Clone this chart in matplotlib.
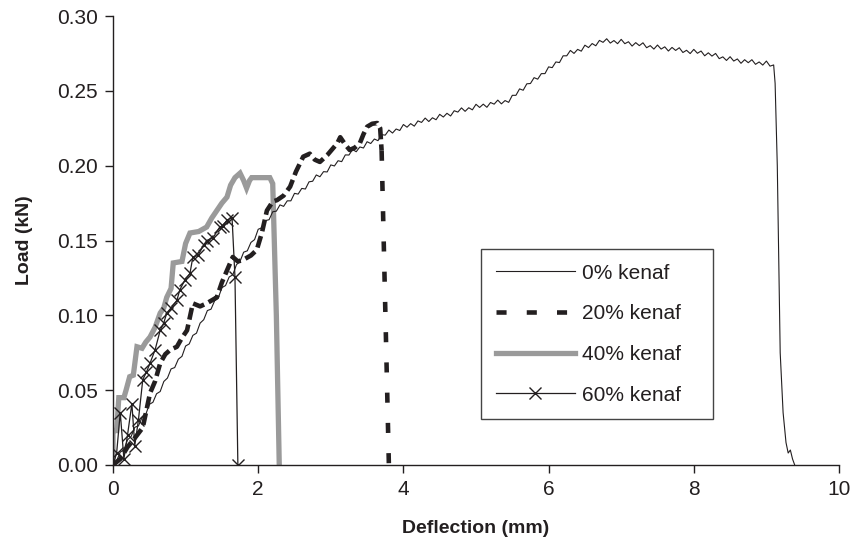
import matplotlib
matplotlib.use("Agg")
import matplotlib.pyplot as plt
import numpy as np

plt.rcParams["font.family"] = ["Liberation Sans", "DejaVu Sans"]

# 0% kenaf (thin solid): read every 0.05 mm up to 9.1, then the failure drop
x0 = [round(0.05 * i, 2) for i in range(183)] + [9.12, 9.15, 9.19, 9.23, 9.27, 9.30, 9.33, 9.36, 9.39]
y0 = [0.0, 0.0029, 0.0086, 0.0101, 0.0168, 0.0191, 0.0252, 0.0261, 0.0317, 0.0336,
      0.0405, 0.0419, 0.0476, 0.0491, 0.0558, 0.0581, 0.0642, 0.0651, 0.0707, 0.0726,
      0.0795, 0.0809, 0.0866, 0.0881, 0.0948, 0.0971, 0.1032, 0.1041, 0.1097, 0.1116,
      0.1185, 0.1199, 0.1256, 0.1271, 0.1338, 0.1361, 0.1422, 0.1431, 0.1487, 0.1506,
      0.1575, 0.1585, 0.1633, 0.1639, 0.1692, 0.1696, 0.1738, 0.1728, 0.1765, 0.1765,
      0.1815, 0.1810, 0.1848, 0.1844, 0.1892, 0.1896, 0.1938, 0.1926, 0.1960, 0.1958,
      0.2005, 0.1998, 0.2033, 0.2027, 0.2072, 0.2071, 0.2108, 0.2093, 0.2125, 0.2118,
      0.2160, 0.2148, 0.2178, 0.2167, 0.2207, 0.2204, 0.2238, 0.2218, 0.2245, 0.2235,
      0.2275, 0.2257, 0.2281, 0.2264, 0.2299, 0.2289, 0.2318, 0.2295, 0.2320, 0.2307,
      0.2343, 0.2325, 0.2350, 0.2332, 0.2367, 0.2358, 0.2386, 0.2363, 0.2387, 0.2373,
      0.2410, 0.2389, 0.2411, 0.2390, 0.2422, 0.2411, 0.2438, 0.2413, 0.2435, 0.2423,
      0.2470, 0.2470, 0.2513, 0.2504, 0.2547, 0.2549, 0.2588, 0.2578, 0.2615, 0.2615,
      0.2660, 0.2655, 0.2693, 0.2689, 0.2734, 0.2734, 0.2770, 0.2750, 0.2777, 0.2765,
      0.2805, 0.2789, 0.2816, 0.2801, 0.2837, 0.2824, 0.2848, 0.2819, 0.2836, 0.2815,
      0.2844, 0.2815, 0.2828, 0.2799, 0.2822, 0.2802, 0.2821, 0.2788, 0.2802, 0.2779,
      0.2806, 0.2779, 0.2794, 0.2766, 0.2790, 0.2770, 0.2788, 0.2756, 0.2771, 0.2749,
      0.2777, 0.2751, 0.2766, 0.2734, 0.2754, 0.2732, 0.2750, 0.2715, 0.2727, 0.2703,
      0.2728, 0.2699, 0.2713, 0.2684, 0.2708, 0.2688, 0.2708, 0.2677, 0.2693, 0.2672,
      0.2699, 0.2665, 0.2673,
      0.255, 0.200, 0.075, 0.035, 0.015, 0.008, 0.010, 0.004, 0.000]

# 20% kenaf (thick dashed)
x20 = [0, 0.1, 0.2, 0.3, 0.41, 0.51, 0.58, 0.65, 0.72, 0.79, 0.88, 0.95, 1.02, 1.10,
       1.2, 1.29, 1.43, 1.5, 1.57, 1.65, 1.72, 1.79, 1.9, 1.98, 2.05, 2.12, 2.2, 2.26,
       2.35, 2.44, 2.52, 2.62, 2.71, 2.78, 2.85, 2.95, 3.02, 3.09, 3.13, 3.2, 3.26,
       3.33, 3.40, 3.45, 3.50, 3.57, 3.64, 3.68, 3.70, 3.80]
y20 = [0, 0.004, 0.012, 0.018, 0.025, 0.048, 0.056, 0.068, 0.074, 0.077, 0.079, 0.085,
       0.090, 0.108, 0.106, 0.108, 0.112, 0.122, 0.130, 0.139, 0.136, 0.137, 0.140,
       0.1437, 0.155, 0.170, 0.176, 0.177, 0.180, 0.186, 0.196, 0.206, 0.208, 0.204,
       0.2025, 0.207, 0.211, 0.215, 0.219, 0.214, 0.2105, 0.212, 0.215, 0.221, 0.226,
       0.228, 0.2285, 0.225, 0.210, 0.0]

# 40% kenaf (thick grey)
x40 = [0, 0, 0.05, 0.08, 0.15, 0.18, 0.23, 0.28, 0.33, 0.40, 0.45, 0.51, 0.58, 0.65,
       0.70, 0.74, 0.80, 0.83, 0.95, 1.0, 1.06, 1.18, 1.29, 1.36, 1.43, 1.50, 1.57,
       1.62, 1.68, 1.75, 1.80, 1.84, 1.88, 1.91, 2.05, 2.16, 2.2, 2.25, 2.29]
y40 = [0, 0.023, 0.023, 0.045, 0.045, 0.050, 0.059, 0.060, 0.079, 0.078, 0.082, 0.0855,
       0.092, 0.1015, 0.105, 0.112, 0.118, 0.135, 0.136, 0.148, 0.155, 0.156, 0.159,
       0.165, 0.170, 0.175, 0.179, 0.187, 0.192, 0.195, 0.190, 0.185, 0.190, 0.192,
       0.192, 0.192, 0.188, 0.100, 0.0]

# 60% kenaf (thin with x markers)
x60 = [0, 0.05, 0.1, 0.15, 0.2, 0.26, 0.3, 0.35, 0.41, 0.46, 0.51, 0.58, 0.65, 0.70,
       0.74, 0.80, 0.88, 0.92, 0.99, 1.06, 1.10, 1.17, 1.25, 1.29, 1.38, 1.47, 1.52,
       1.57, 1.64, 1.68, 1.72]
y60 = [0, 0.008, 0.035, 0.004, 0.020, 0.041, 0.013, 0.030, 0.057, 0.062, 0.068, 0.077,
       0.090, 0.095, 0.1015, 0.105, 0.110, 0.117, 0.1236, 0.128, 0.139, 0.140, 0.147,
       0.150, 0.152, 0.159, 0.160, 0.1637, 0.165, 0.1256, 0.0]

labels = ["0% kenaf", "20% kenaf", "40% kenaf", "60% kenaf"]
ink = "#231f20"
drop20 = 48  # index where the 20% curve starts its failure drop

fig = plt.figure(figsize=(8.54, 5.47), dpi=100)
ax = fig.add_axes([113 / 854, 82 / 547, 726 / 854, 449 / 547])

l0, = ax.plot(x0, y0, color=ink, lw=0.8, zorder=3)
# dense data -> the dash pattern looks nearly solid on the rising part
ax.plot(x20[:drop20 + 1], y20[:drop20 + 1], color=ink, lw=3.3,
        linestyle=(0, (2.6, 1.1)), zorder=4)
l20, = ax.plot(x20[drop20:], y20[drop20:], color=ink, lw=3.3,
               linestyle=(0, (2.2, 4.4)), zorder=4)
l40, = ax.plot(x40, y40, color="#9a9a9a", lw=3.8, zorder=2, solid_joinstyle="miter")
l60, = ax.plot(x60, y60, color=ink, lw=0.9, marker="x", markersize=8,
               markeredgewidth=1.0, zorder=5)

ax.set_xlim(0, 10)
ax.set_ylim(0, 0.30)
ax.set_xticks(np.arange(0, 11, 2))
ax.set_yticks(np.arange(0, 0.31, 0.05))
ax.yaxis.set_major_formatter(matplotlib.ticker.FormatStrFormatter("%.2f"))
for s in ("top", "right"):
    ax.spines[s].set_visible(False)
for s in ("left", "bottom"):
    ax.spines[s].set_color(ink)
    ax.spines[s].set_linewidth(1.0)
ax.tick_params(direction="out", length=6, width=1.0, color=ink,
               labelsize=15, labelcolor=ink, pad=5)
ax.set_xlabel("Deflection (mm)", fontsize=14, fontweight="bold", color=ink, labelpad=15)
ax.set_ylabel("Load (kN)", fontsize=14, fontweight="bold", color=ink, labelpad=17)

# legend box: px 481..713 wide, 249..420 tall
leg = ax.legend([l0, l20, l40, l60], labels, loc="upper left", mode="expand",
                bbox_to_anchor=((481 - 113) / 726, (465 - 420) / 449,
                                232 / 726, 171 / 449),
                borderaxespad=0, fontsize=15, handlelength=3.8, handletextpad=0.35,
                labelspacing=1.04, borderpad=0.7, fancybox=False, framealpha=1,
                edgecolor="#444444")
leg.get_frame().set_linewidth(1.0)
for t in leg.get_texts():
    t.set_color(ink)

fig.savefig("out.png", dpi=100)
